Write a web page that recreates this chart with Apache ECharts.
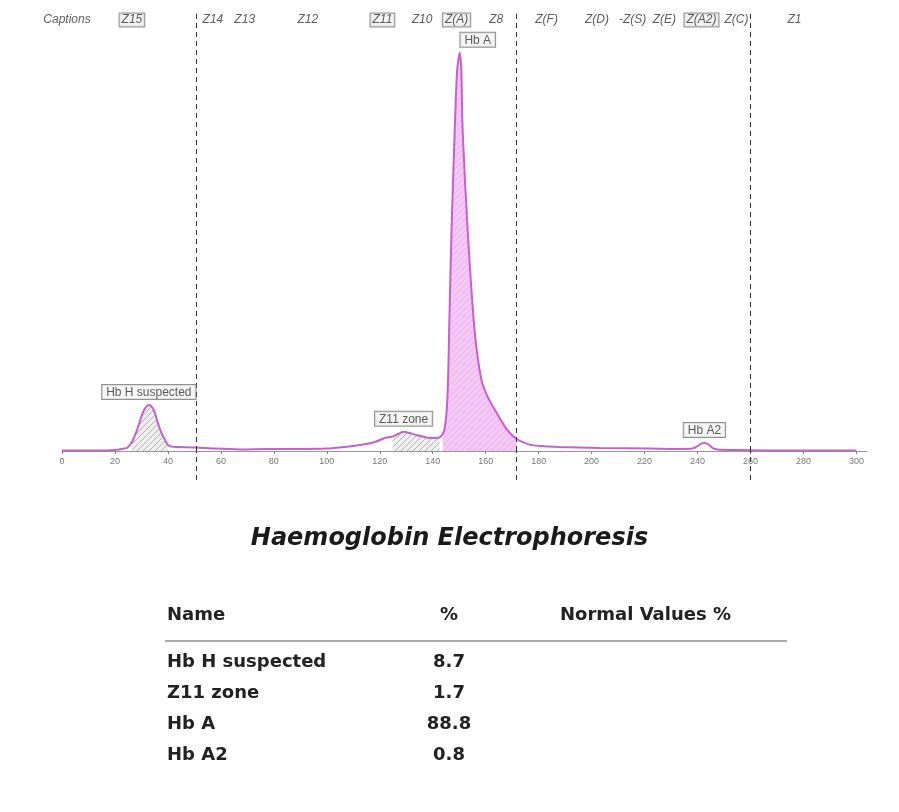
<!DOCTYPE html>
<html>
<head>
<meta charset="utf-8">
<script src="https://cdn.jsdelivr.net/npm/echarts@6/dist/echarts.min.js"></script>
<style>
  html, body { margin: 0; padding: 0; background: #fff; }
  #chart { width: 899px; height: 812px; }
</style>
</head>
<body>
<div id="chart"></div>
<script>
// migration distance (x) and relative absorbance (y, Hb A peak = 100)
const curveX = [0, 14.3, 20, 22.6, 24.5, 26.4, 28.3, 30.6, 31.7, 32.8, 34, 35.1, 36.2, 37.6, 38.9, 40,
  41.5, 43.4, 50.6, 57.7, 67.2, 78.5, 89.8, 100, 106.8, 112.5, 118.1, 121.9, 124.9, 126.8, 129,
  131.3, 133.8, 137.6, 140.8, 142.6, 143.8, 144.5, 145.2, 145.8, 146.2, 147.1, 148.3, 149.2, 150.2,
  150.8, 151.3, 153.2, 155.8, 158.4, 160.8, 164.2, 167.9, 171.7, 176.6, 180.4, 187.9, 203, 221.9,
  233.2, 238.1, 240, 241.5, 242.6, 244.2, 245.7, 247.5, 255.8, 271, 300];
const curveY = [0.1, 0.1, 0.25, 0.5, 0.75, 2.25, 5.25, 9.75, 11, 11.5, 11, 9.5, 7, 4.5, 2.75, 1.5,
  1.1, 1.0, 0.9, 0.6, 0.4, 0.5, 0.5, 0.6, 1, 1.5, 2.25, 3.25, 3.6, 4.25, 4.8,
  4.5, 4, 3.4, 3.25, 3.4, 4.25, 5.75, 9.5, 17.75, 30.25, 55.25, 80.25, 95.25, 99.8,
  95.25, 80.25, 55.25, 30.25, 17.75, 13.5, 9.5, 5.5, 3, 1.6, 1.25, 1, 0.75, 0.6,
  0.5, 0.6, 1.25, 1.9, 2, 1.6, 0.75, 0.4, 0.25, 0.1, 0.1];

// zone caption row
const captionNames = ['Captions', 'Z15', 'Z14', 'Z13', 'Z12', 'Z11', 'Z10', 'Z(A)', 'Z8', 'Z(F)',
  'Z(D)', '-Z(S)', 'Z(E)', 'Z(A2)', 'Z(C)', 'Z1'];
const captionPos = [1.9, 26.4, 57, 69, 92.8, 121, 136, 149, 164, 183, 202, 215.5, 227.5, 241.5, 254.7, 276.6];
const captionBoxed = [false, true, false, false, false, true, false, true, false, false,
  false, false, false, true, false, false];

// dashed zone boundaries
const zoneBounds = [50.6, 171.7, 260];

// identified fractions
const peakNames = ['Hb H suspected', 'Z11 zone', 'Hb A', 'Hb A2'];
const peakX = [32.8, 129, 150.2, 242.6];
const peakY = [11.5, 4.8, 99.8, 2];
const fillFrom = [26.4, 124.9, 143.8];
const fillTo = [40, 142.6, 171.7];
const fillKind = ['gray', 'gray', 'pink'];

// results table
const tableHeader = ['Name', '%', 'Normal Values %'];
const tableNames = ['Hb H suspected', 'Z11 zone', 'Hb A', 'Hb A2'];
const tablePercent = ['8.7', '1.7', '88.8', '0.8'];

const xTicks = { min: 0, max: 304, interval: 20 };

const hatch = (bg, fg) => {
  const c = document.createElement('canvas');
  c.width = 6;
  c.height = 6;
  const ctx = c.getContext('2d');
  ctx.fillStyle = bg;
  ctx.fillRect(0, 0, 6, 6);
  ctx.strokeStyle = fg;
  ctx.lineWidth = 1;
  ctx.beginPath();
  ctx.moveTo(0, 6); ctx.lineTo(6, 0);
  ctx.moveTo(-3, 3); ctx.lineTo(3, -3);
  ctx.moveTo(3, 9); ctx.lineTo(9, 3);
  ctx.stroke();
  return c;
};
const patterns = {
  gray: { image: hatch('#efefef', '#b4b4b4'), repeat: 'repeat' },
  pink: { image: hatch('#f4c8f4', '#eab0ec'), repeat: 'repeat' }
};

const curve = curveX.map((x, i) => [x, curveY[i]]);
const lineColor = '#c660cc';
const smoothness = 0.25;

const fillSeries = fillFrom.map((from, i) => ({
  type: 'line',
  data: curve.filter((p) => p[0] >= from && p[0] <= fillTo[i]),
  smooth: smoothness,
  symbol: 'none',
  silent: true,
  lineStyle: { width: 0 },
  areaStyle: { color: patterns[fillKind[i]], opacity: 1 },
  z: 1
}));

const captionLabel = (boxed) => ({
  show: true,
  position: 'inside',
  fontFamily: 'Liberation Sans',
  fontStyle: 'italic',
  fontSize: 12,
  color: '#333',
  padding: boxed ? [1, 2, 0, 2] : 0,
  borderColor: boxed ? '#777' : 'transparent',
  borderWidth: boxed ? 1 : 0,
  backgroundColor: boxed ? '#efefef' : 'transparent'
});

const peakOffsets = [[0, 0], [0, 0], [18, 0], [0, 0]];

const tableFont = 'bold 18px "DejaVu Sans"';
const tableGraphics = [];
tableGraphics.push({
  type: 'text', left: 'center', top: 527,
  style: { text: 'Haemoglobin Electrophoresis', font: 'italic bold 24px "DejaVu Sans"', fill: '#1a1a1a' }
});
[167, 449, 560].forEach((x, i) => {
  tableGraphics.push({
    type: 'text', x, y: 615,
    style: { text: tableHeader[i], font: tableFont, fill: '#222', align: i === 1 ? 'center' : 'left', verticalAlign: 'middle' }
  });
});
tableGraphics.push({
  type: 'line', shape: { x1: 165, y1: 641, x2: 787, y2: 641 },
  style: { stroke: '#aaa', lineWidth: 2 }
});
tableNames.forEach((name, i) => {
  const y = 662 + i * 31;
  tableGraphics.push({
    type: 'text', x: 167, y,
    style: { text: name, font: tableFont, fill: '#222', verticalAlign: 'middle' }
  });
  tableGraphics.push({
    type: 'text', x: 449, y,
    style: { text: tablePercent[i], font: tableFont, fill: '#222', align: 'center', verticalAlign: 'middle' }
  });
});

const chart = echarts.init(document.getElementById('chart'), null, { renderer: 'canvas' });
const option = {
  animation: false,
  backgroundColor: '#fff',
  grid: [
    { left: 62, right: 32, top: 12, bottom: 361 },
    // thin strip under the axis so the zone boundaries run past the tick labels
    { left: 62, right: 32, top: 451, bottom: 332 }
  ],
  xAxis: [
    {
      type: 'value',
      min: xTicks.min,
      max: xTicks.max,
      interval: xTicks.interval,
      axisLine: { lineStyle: { color: '#999', width: 1 } },
      axisTick: { show: true, length: 3, lineStyle: { color: '#888' } },
      axisLabel: { color: '#777', fontSize: 9, fontFamily: 'Liberation Sans', margin: 6, showMaxLabel: false },
      splitLine: { show: false }
    },
    { type: 'value', gridIndex: 1, min: xTicks.min, max: xTicks.max, show: false }
  ],
  yAxis: [
    { type: 'value', min: 0, max: 110, show: false, splitLine: { show: false } },
    { type: 'value', gridIndex: 1, min: 0, max: 1, show: false }
  ],
  graphic: tableGraphics,
  series: [
    ...fillSeries,
    {
      type: 'line',
      data: curve,
      smooth: smoothness,
      symbol: 'none',
      lineStyle: { color: lineColor, width: 2 },
      z: 3,
      markLine: {
        silent: true,
        symbol: 'none',
        label: { show: false },
        lineStyle: { color: '#333', type: [5, 4], width: 1 },
        data: zoneBounds.map((x) => ({ xAxis: x }))
      }
    },
    {
      type: 'line',
      xAxisIndex: 1,
      yAxisIndex: 1,
      data: [],
      markLine: {
        silent: true,
        symbol: 'none',
        label: { show: false },
        lineStyle: { color: '#333', type: [5, 4], width: 1 },
        data: zoneBounds.map((x) => ({ xAxis: x }))
      }
    },
    {
      type: 'scatter',
      symbolSize: 0,
      silent: true,
      z: 5,
      data: captionNames.map((name, i) => ({
        name,
        value: [captionPos[i], 108],
        label: { ...captionLabel(captionBoxed[i]), formatter: name }
      }))
    },
    {
      type: 'scatter',
      symbolSize: 0,
      silent: true,
      z: 6,
      data: peakNames.map((name, i) => ({
        name,
        value: [peakX[i], peakY[i]],
        label: {
          show: true,
          position: 'top',
          distance: 6,
          offset: peakOffsets[i],
          formatter: name,
          fontFamily: 'Liberation Sans',
          fontSize: 12,
          lineHeight: 13,
          color: '#333',
          padding: [1, 4, 0, 4],
          borderColor: '#777',
          borderWidth: 1,
          backgroundColor: '#f3f3f3'
        }
      }))
    }
  ]
};
chart.setOption(option);
</script>
</body>
</html>
